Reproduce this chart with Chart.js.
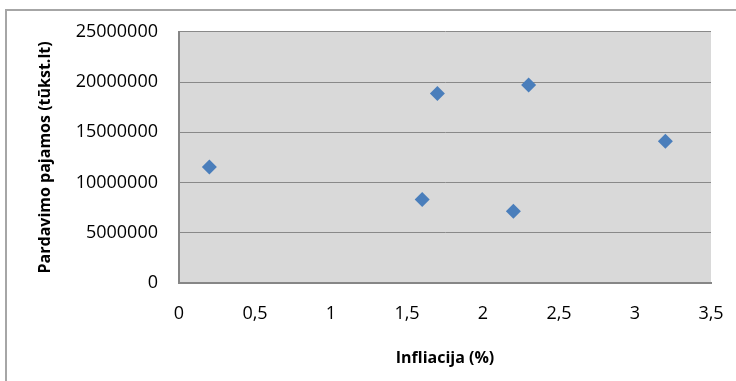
<!DOCTYPE html>
<html>
<head>
<meta charset="utf-8">
<script src="https://cdn.jsdelivr.net/npm/chart.js@4"></script>
<style>
  html, body { margin: 0; padding: 0; background: #fff; }
  #wrap { width: 736px; height: 381px; }
</style>
</head>
<body>
<div id="wrap"><canvas id="scatterChart"></canvas></div>
<script>
// inflation (%) vs. sales revenue (thousand Lt)
const inflation = [0.2, 1.6, 1.7, 2.2, 2.3, 3.2];
const revenue = [11550000, 8300000, 18850000, 7150000, 19700000, 14100000];
const yTicks = [0, 5000000, 10000000, 15000000, 20000000, 25000000];
const xTicks = [0, 0.5, 1, 1.5, 2, 2.5, 3, 3.5];

const ctx = document.getElementById('scatterChart').getContext('2d');

// grey plot area plus the outer chart frame
const frame = {
    id: 'frame',
    beforeDraw(chart) {
        const c = chart.ctx;
        const a = chart.chartArea;
        c.save();
        c.fillStyle = '#d9d9d9';
        c.fillRect(a.left, a.top, a.right - a.left, a.bottom - a.top);
        c.strokeStyle = '#a6a6a6';
        c.lineWidth = 2;
        c.beginPath();
        c.moveTo(6, chart.height + 5);
        c.lineTo(6, 10);
        c.lineTo(chart.width + 5, 10);
        c.stroke();
        c.restore();
    }
};

new Chart(ctx, {
    type: 'scatter',
    data: {
        datasets: [{
            label: 'Pardavimo pajamos',
            data: inflation.map((x, i) => ({ x: x, y: revenue[i] })),
            pointStyle: 'rectRot',
            pointRadius: 7.5,
            pointHoverRadius: 7.5,
            backgroundColor: '#4a7ebb',
            borderColor: '#4a7ebb',
            borderWidth: 0
        }]
    },
    options: {
        responsive: true,
        maintainAspectRatio: false,
        animation: false,
        layout: { padding: { top: 31, right: 25, left: 0, bottom: 0 } },
        plugins: {
            legend: { display: false },
            tooltip: { enabled: false }
        },
        scales: {
            x: {
                type: 'linear',
                min: 0,
                max: 3.5,
                afterBuildTicks: s => { s.ticks = xTicks.map(v => ({ value: v })); },
                afterFit: s => {
                    s.height = 381 - 283;
                    s.paddingLeft = 0;
                    s.paddingRight = 0;
                },
                grid: { display: false, drawTicks: false },
                border: { display: true, color: '#868686', width: 2 },
                ticks: {
                    padding: 20,
                    color: '#000',
                    font: { family: 'Open Sans', size: 18 },
                    callback: v => String(v).replace('.', ',')
                },
                title: {
                    display: true,
                    text: 'Infliacija (%)',
                    color: '#000',
                    font: { family: 'Open Sans', size: 16, weight: 'bold' },
                    padding: { top: 0, bottom: 13 }
                }
            },
            y: {
                min: 0,
                max: 25000000,
                afterBuildTicks: s => { s.ticks = yTicks.map(v => ({ value: v })); },
                afterFit: s => { s.width = 179; },
                grid: { color: '#898989', lineWidth: 1, drawTicks: false },
                border: { display: true, color: '#868686', width: 2 },
                ticks: {
                    padding: 21,
                    color: '#000',
                    font: { family: 'Open Sans', size: 18 },
                    callback: v => String(v)
                },
                title: {
                    display: true,
                    text: 'Pardavimo pajamos (tūkst.lt)',
                    color: '#000',
                    font: { family: 'Open Sans', size: 16, weight: 'bold' },
                    padding: { top: 36, bottom: 0 }
                }
            }
        }
    },
    plugins: [frame]
});
</script>
</body>
</html>
